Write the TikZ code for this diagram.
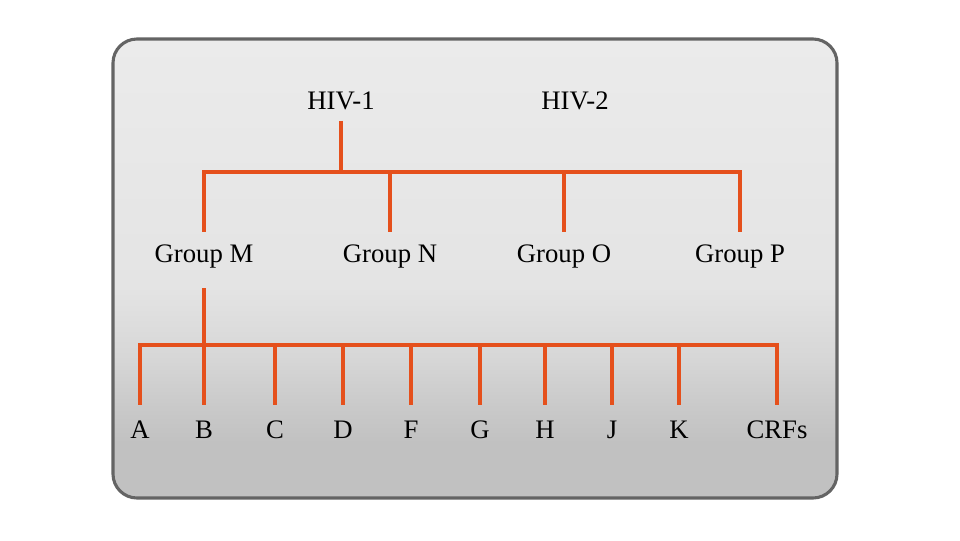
\documentclass[tikz,border=0pt]{standalone}
\usepackage{fontspec}
\setmainfont{Liberation Serif}
\usepackage{tikz}
\usetikzlibrary{positioning}
\usepackage{xcolor}

\definecolor{branchorange}{RGB}{229,80,28}
\definecolor{paneltop}{RGB}{235,235,235}
\definecolor{panelmid}{RGB}{228,228,228}
\definecolor{panellow}{RGB}{214,214,214}
\definecolor{panelbot}{RGB}{193,193,193}
\definecolor{paneledge}{RGB}{100,100,100}

\pgfdeclareverticalshading{panelshade}{100bp}{color(0bp)=(panelbot); color(25bp)=(panelbot); color(31bp)=(panelbot); color(35bp)=(panelbot!60!panellow); color(40bp)=(panellow); color(48bp)=(panelmid); color(75bp)=(paneltop); color(100bp)=(paneltop)}

\begin{document}
\begin{tikzpicture}[
  x=0.025cm, y=-0.025cm,
  label/.style={font=\fontsize{19}{22}\selectfont, inner sep=0pt, text height=13pt, text depth=0pt, outer sep=8.5pt, anchor=base},
  branch/.style={draw=branchorange, line width=3.5pt, line join=miter},
  panel/.style={draw=paneledge, line width=2.2pt, rounded corners=0.6cm, shading=panelshade}
]
\useasboundingbox (0,0) rectangle (960,540);

% background panel
\path[panel] (113,39) rectangle (837,498);

% virus types
\node[label] (hiv1) at (341,109) {HIV-1};
\node[label] (hiv2) at (575,109) {HIV-2};

% groups
\node[label] (grpM) at (204,262) {Group M};
\node[label] (grpN) at (390,262) {Group N};
\node[label] (grpO) at (564,262) {Group O};
\node[label] (grpP) at (740,262) {Group P};

% subtypes
\foreach \name/\xpos/\txt in {stA/140/A, stB/204/B, stC/275/C, stD/343/D, stF/411/F,
  stG/480/G, stH/545/H, stJ/612/J, stK/679/K, stCRF/777/CRFs}
  \node[label] (\name) at (\xpos,438) {\txt};

\coordinate (topbar) at (341,172);
\coordinate (subbar) at (204,345);

\draw[branch] (hiv1.south) -- (hiv1.south |- topbar);
\draw[branch] (grpM.north) -- (grpM.north |- topbar) -- (grpP.north |- topbar) -- (grpP.north);
\foreach \g in {grpN, grpO}
  \draw[branch] (\g.north) -- (\g.north |- topbar);

\draw[branch] ([yshift=-10pt]grpM.south) -- (grpM.south |- subbar);
\draw[branch] ([yshift=2pt]stA.north) -- (stA.north |- subbar) -- (stCRF.north |- subbar) -- ([yshift=2pt]stCRF.north);
\foreach \s in {stB, stC, stD, stF, stG, stH, stJ, stK}
  \draw[branch] ([yshift=2pt]\s.north) -- (\s.north |- subbar);

\end{tikzpicture}
\end{document}
